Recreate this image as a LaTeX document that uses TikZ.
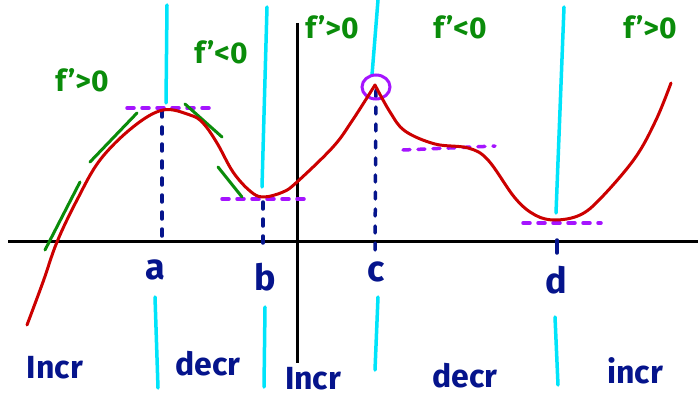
\documentclass[tikz,border=0pt]{standalone}
\usepackage{fontspec}
\setmainfont{Fira Sans}
\definecolor{curvered}{RGB}{204,0,0}
\definecolor{skyline}{RGB}{0,228,250}
\definecolor{tangreen}{RGB}{10,140,10}
\definecolor{inknavy}{RGB}{5,20,140}
\definecolor{dashpurple}{RGB}{165,20,255}
\begin{document}
\begin{tikzpicture}[x=1pt,y=-1pt,
  curve/.style={curvered,line width=3pt,line cap=round,line join=round},
  axisline/.style={black,line width=3pt},
  cyanline/.style={skyline,line width=3.5pt,line cap=round},
  tangent/.style={tangreen,line width=3pt,line cap=round},
  levelline/.style={dashpurple,line width=3.5pt,line cap=round,dash pattern=on 7pt off 8pt},
  dropline/.style={inknavy,line width=3.5pt,line cap=round,dash pattern=on 7pt off 10pt},
  signlabel/.style={tangreen,inner sep=0pt,font=\fontsize{30}{30}\selectfont\bfseries},
  ptlabel/.style={inknavy,inner sep=0pt,font=\fontsize{36}{36}\selectfont\bfseries},
  intlabel/.style={inknavy,inner sep=0pt,font=\fontsize{32}{32}\selectfont\bfseries}]
\useasboundingbox (0,0) rectangle (698,398);
\fill[white] (0,0) rectangle (698,398);
% axes
\coordinate (xl) at (8,241); \coordinate (xr) at (698,241);
\coordinate (yt) at (297,23); \coordinate (yb) at (297,363);
\draw[axisline] (xl) -- (xr);
\draw[axisline] (yt) -- (yb);
% cyan separators
\coordinate (a1) at (167,5); \coordinate (a2) at (166,103);
\coordinate (a3) at (155,297); \coordinate (a4) at (158,388);
\coordinate (b1) at (267,7); \coordinate (b2) at (262,187);
\coordinate (b3) at (265,307); \coordinate (b4) at (264,387);
\coordinate (c1) at (378,0); \coordinate (c2) at (372,75);
\coordinate (c3) at (378,297); \coordinate (c4) at (375,370);
\coordinate (d1) at (564,7); \coordinate (d2) at (556,213);
\coordinate (d3) at (555,317); \coordinate (d4) at (558,385);
\draw[cyanline] (a1) -- (a2); \draw[cyanline] (a3) -- (a4);
\draw[cyanline] (b1) -- (b2); \draw[cyanline] (b3) -- (b4);
\draw[cyanline] (c1) -- (c2); \draw[cyanline] (c3) -- (c4);
\draw[cyanline] (d1) -- (d2); \draw[cyanline] (d3) -- (d4);
% blue drop lines
\coordinate (pa) at (162,110); \coordinate (qa) at (162,243);
\coordinate (pb) at (263,202); \coordinate (qb) at (263,250);
\coordinate (pc) at (376,90); \coordinate (qc) at (375,252);
\coordinate (pd) at (557,240); \coordinate (qd) at (557,253);
\draw[dropline] (pa) -- (qa);
\draw[dropline] (pb) -- (qb);
\draw[dropline] (pc) -- (qc);
\draw[inknavy,line width=3.5pt,line cap=round] (pd) -- (qd);
% purple level lines
\coordinate (la1) at (127,108); \coordinate (la2) at (215,108);
\coordinate (lb1) at (222,199); \coordinate (lb2) at (308,199);
\coordinate (ls1) at (403,150); \coordinate (ls2) at (495,146);
\coordinate (ld1) at (523,223); \coordinate (ld2) at (601,223);
\draw[levelline] (la1) -- (la2);
\draw[levelline] (lb1) -- (lb2);
\draw[levelline] (ls1) -- (ls2);
\draw[levelline] (ld1) -- (ld2);
\coordinate (cusp) at (376,87);
\draw[dashpurple,line width=3pt] (cusp) ellipse [x radius=14pt, y radius=12pt];
% green tangents
\coordinate (t1a) at (45,250); \coordinate (t1b) at (80,182);
\coordinate (t2a) at (90,162); \coordinate (t2b) at (137,113);
\coordinate (t3a) at (185,104); \coordinate (t3b) at (222,137);
\coordinate (t4a) at (218,167); \coordinate (t4b) at (242,197);
\draw[tangent] (t1a) -- (t1b);
\draw[tangent] (t2a) -- (t2b);
\draw[tangent] (t3a) -- (t3b);
\draw[tangent] (t4a) -- (t4b);
% red curve
\draw[curve] plot[smooth,tension=0.6] coordinates {(27,325) (43,282) (57,242) (77,200) (100,160) (133,127) (163,110) (190,115) (203,123) (217,143) (233,172) (250,191) (263,197) (283,192) (297,182) (333,147) (352,121) (375,85)};
\draw[curve] plot[smooth,tension=0.6] coordinates {(375,85) (390,112) (405,131) (435,144) (468,148) (488,160) (515,198) (535,215) (555,220) (580,215) (601,198) (635,158) (656,120) (671,83)};
% green sign labels
\node[signlabel] (s1) at (82,80) {f’>0};
\node[signlabel] (s2) at (221,52) {f’<0};
\node[signlabel] (s3) at (332,27) {f’>0};
\node[signlabel] (s4) at (460,27) {f’<0};
\node[signlabel] (s5) at (650,27) {f’>0};
% point labels
\node[ptlabel] (la) at (155,270) {a};
\node[ptlabel] (lb) at (265,277) {b};
\node[ptlabel] (lc) at (376,272) {c};
\node[ptlabel] (ld) at (556,280) {d};
% interval labels
\node[intlabel] (i1) at (55,368) {Incr};
\node[intlabel] (i2) at (208,364) {decr};
\node[intlabel] (i3) at (313,379) {Incr};
\node[intlabel] (i4) at (465,376) {decr};
\node[intlabel] (i5) at (635,371) {incr};
\end{tikzpicture}
\end{document}
